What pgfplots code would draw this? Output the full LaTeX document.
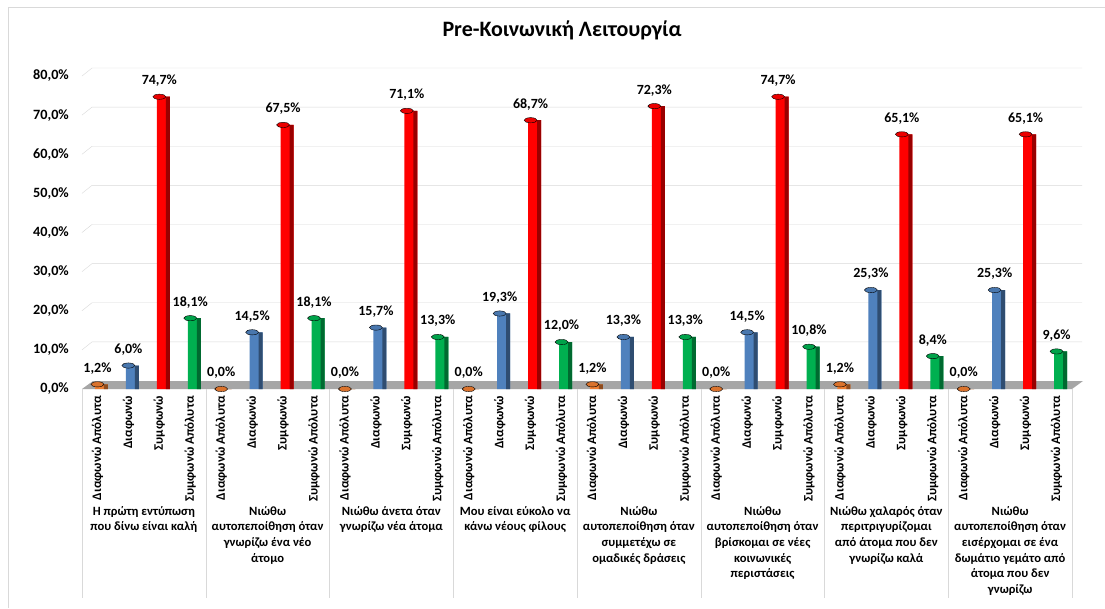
\documentclass[border=0pt]{standalone}
\usepackage{pgfplots}
\pgfplotsset{compat=1.18}
\usepackage{pgfplotstable}
\usepackage{fontspec}
\setmainfont{Carlito}

\definecolor{cDA}{HTML}{ED7D31}
\definecolor{cD}{HTML}{4F81BD}
\definecolor{cS}{HTML}{FF0000}
\definecolor{cSA}{HTML}{00B050}
\definecolor{lineg}{HTML}{D9D9D9}
\definecolor{floorg}{HTML}{A6A6A6}

% g: statement index, da: strongly disagree, d: disagree, s: agree, sa: strongly agree
\pgfplotstableread{
g da   d    s    sa
0 1.2  6.0  74.7 18.1
1 0.0  14.5 67.5 18.1
2 0.0  15.7 71.1 13.3
3 0.0  19.3 68.7 12.0
4 1.2  13.3 72.3 13.3
5 0.0  14.5 74.7 10.8
6 1.2  25.3 65.1 8.4
7 0.0  25.3 65.1 9.6
}\resp

\pgfplotsset{
  % cylinder body with rounded top and value label
  cyl/.style={ybar, bar width=13pt, bar shift=4pt, draw=none, fill=#1,
    mark=*, mark size=6.5pt,
    mark options={yscale=0.4, draw=none, fill=#1!92!black},
    nodes near coords={\pgfmathprintnumber[fixed,fixed zerofill,precision=1,use comma]{\pgfplotspointmeta}\%},
    every node near coord/.append style={font=\fontsize{14}{16}\selectfont\bfseries,
      text=black, inner sep=0pt, anchor=south, yshift=10pt}},
  % shaded right side of the cylinder
  cylside/.style={ybar, bar width=4pt, bar shift=8.5pt, draw=none, fill=#1!60!black},
}

\begin{document}
\begin{tikzpicture}
\useasboundingbox (0pt,0pt) rectangle (1105pt,608pt);
\begin{scope}[x=1pt,y=1pt]
\fill[white] (0,0) rectangle (1105,608);
% outer frame
\draw[lineg] (8,0) -- (8,601) -- (1105,601);
% title
\node[font=\fontsize{22}{26}\selectfont\bfseries] at (562,578) {Pre-Κοινωνική Λειτουργία};
\end{scope}

\begin{axis}[
  at={(82pt,219pt)}, anchor=south west,
  scale only axis, width=990pt, height=313pt,
  xmin=-0.5, xmax=31.5, ymin=0, ymax=80,
  clip=false,
  axis line style={draw=none}, tick style={draw=none},
  ytick={0,10,...,80},
  /pgf/number format/assume math mode=true,
  yticklabel={\pgfmathprintnumber[fixed,fixed zerofill,precision=1,use comma]{\tick}\%},
  yticklabel style={font=\fontsize{14.2}{16}\selectfont\bfseries, inner sep=0pt, anchor=east},
  yticklabel shift=13pt,
  xtick={0,...,31},
  xticklabels={Διαφωνώ Απόλυτα,Διαφωνώ,Συμφωνώ,Συμφωνώ Απόλυτα,
               Διαφωνώ Απόλυτα,Διαφωνώ,Συμφωνώ,Συμφωνώ Απόλυτα,
               Διαφωνώ Απόλυτα,Διαφωνώ,Συμφωνώ,Συμφωνώ Απόλυτα,
               Διαφωνώ Απόλυτα,Διαφωνώ,Συμφωνώ,Συμφωνώ Απόλυτα,
               Διαφωνώ Απόλυτα,Διαφωνώ,Συμφωνώ,Συμφωνώ Απόλυτα,
               Διαφωνώ Απόλυτα,Διαφωνώ,Συμφωνώ,Συμφωνώ Απόλυτα,
               Διαφωνώ Απόλυτα,Διαφωνώ,Συμφωνώ,Συμφωνώ Απόλυτα,
               Διαφωνώ Απόλυτα,Διαφωνώ,Συμφωνώ,Συμφωνώ Απόλυτα},
  xticklabel style={rotate=90, anchor=east, inner sep=0pt,
    font=\fontsize{13}{15}\selectfont\bfseries},
  xticklabel shift=7pt,
]
% back wall grid and side edges
\pgfplotsinvokeforeach{10,20,...,80}{
  \draw[lineg] (axis cs:-0.5,#1) -- ([shift={(10pt,8pt)}]axis cs:-0.5,#1)
    -- ([shift={(10pt,8pt)}]axis cs:31.5,#1);
}
% floor
\fill[floorg] (axis cs:-0.5,0) -- (axis cs:31.5,0)
  -- ([shift={(11pt,8pt)}]axis cs:31.5,0) -- ([shift={(11pt,8pt)}]axis cs:-0.5,0) -- cycle;

\addplot[cyl=cDA] table[x expr=4*\thisrow{g}+0, y=da] {\resp};
\addplot[cylside=cDA] table[x expr=4*\thisrow{g}+0, y=da] {\resp};
\addplot[cyl=cD]  table[x expr=4*\thisrow{g}+1, y=d]  {\resp};
\addplot[cylside=cD]  table[x expr=4*\thisrow{g}+1, y=d]  {\resp};
\addplot[cyl=cS]  table[x expr=4*\thisrow{g}+2, y=s]  {\resp};
\addplot[cylside=cS]  table[x expr=4*\thisrow{g}+2, y=s]  {\resp};
\addplot[cyl=cSA] table[x expr=4*\thisrow{g}+3, y=sa] {\resp};
\addplot[cylside=cSA] table[x expr=4*\thisrow{g}+3, y=sa] {\resp};
\end{axis}

\begin{scope}[x=1pt,y=1pt]
% group separators
\foreach \k in {0,...,8} {
  \draw[lineg] ({82+123.75*\k},219) -- ({82+123.75*\k},10);
}
% statement labels
\begin{scope}[every node/.style={anchor=north, align=center, inner sep=0pt,
    font=\fontsize{12.6}{15.7}\selectfont\bfseries}]
\node at ({82+123.75*0.5},102) {Η πρώτη εντύπωση\\που δίνω είναι καλή};
\node at ({82+123.75*1.5},102) {Νιώθω\\αυτοπεποίθηση όταν\\γνωρίζω ένα νέο\\άτομο};
\node at ({82+123.75*2.5},102) {Νιώθω άνετα όταν\\γνωρίζω νέα άτομα};
\node at ({82+123.75*3.5},102) {Μου είναι εύκολο να\\κάνω νέους φίλους};
\node at ({82+123.75*4.5},102) {Νιώθω\\αυτοπεποίθηση όταν\\συμμετέχω σε\\ομαδικές δράσεις};
\node at ({82+123.75*5.5},102) {Νιώθω\\αυτοπεποίθηση όταν\\βρίσκομαι σε νέες\\κοινωνικές\\περιστάσεις};
\node at ({82+123.75*6.5},102) {Νιώθω χαλαρός όταν\\περιτριγυρίζομαι\\από άτομα που δεν\\γνωρίζω καλά};
\node at ({82+123.75*7.5},102) {Νιώθω\\αυτοπεποίθηση όταν\\εισέρχομαι σε ένα\\δωμάτιο γεμάτο από\\άτομα που δεν\\γνωρίζω};
\end{scope}
\end{scope}
\end{tikzpicture}
\end{document}
